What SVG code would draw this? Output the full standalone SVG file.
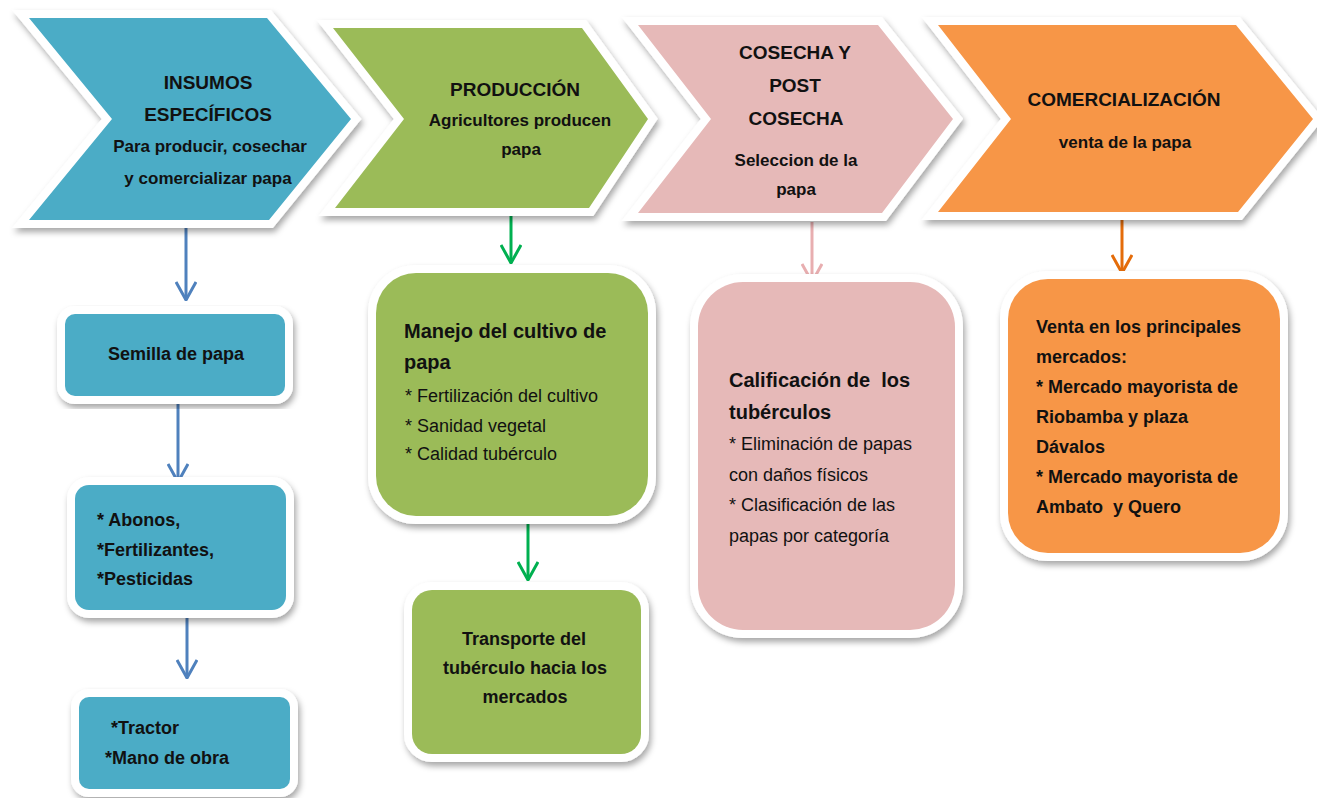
<svg xmlns="http://www.w3.org/2000/svg" width="1317" height="798" viewBox="0 0 1317 798">
<style>
.frame{stroke:#ffffff;stroke-width:16;stroke-linejoin:miter;paint-order:stroke;filter:url(#sh)}
.blue{fill:#4bacc6}.green{fill:#9bbb59}.pink{fill:#e6b9b8}.orange{fill:#f79646}
text{font-family:"Liberation Sans",Arial,sans-serif;fill:#111111}
.h{font-size:19px;font-weight:bold;text-anchor:middle}
.s{font-size:17px;font-weight:bold;text-anchor:middle}
.b{font-size:18px;font-weight:bold}
.bc{font-size:18px;font-weight:bold;text-anchor:middle}
.r{font-size:18px}
.hd{font-size:20px;font-weight:bold}
.c{fill:none;stroke-width:3}
</style>
<defs>
<filter id="sh" x="-10%" y="-10%" width="125%" height="125%">
<feDropShadow dx="2" dy="4" stdDeviation="3" flood-color="#000" flood-opacity="0.35"/>
</filter>
<marker id="aB" viewBox="0 0 20 22" refX="19" refY="11" markerWidth="20" markerHeight="22" markerUnits="userSpaceOnUse" orient="auto"><path d="M1,1 L19,11 L1,21" fill="none" stroke="#4f81bd" stroke-width="3"/></marker>
<marker id="aG" viewBox="0 0 20 22" refX="19" refY="11" markerWidth="20" markerHeight="22" markerUnits="userSpaceOnUse" orient="auto"><path d="M1,1 L19,11 L1,21" fill="none" stroke="#00b050" stroke-width="3"/></marker>
<marker id="aP" viewBox="0 0 20 22" refX="19" refY="11" markerWidth="20" markerHeight="22" markerUnits="userSpaceOnUse" orient="auto"><path d="M1,1 L19,11 L1,21" fill="none" stroke="#e8aeb0" stroke-width="3"/></marker>
<marker id="aO" viewBox="0 0 20 22" refX="19" refY="11" markerWidth="20" markerHeight="22" markerUnits="userSpaceOnUse" orient="auto"><path d="M1,1 L19,11 L1,21" fill="none" stroke="#e46c0a" stroke-width="3"/></marker>
</defs>
<rect width="1317" height="798" fill="#ffffff"/>

<g id="connectors">
<line class="c" x1="186" y1="222" x2="186" y2="300" stroke="#4f81bd" marker-end="url(#aB)"/>
<line class="c" x1="178" y1="402" x2="178" y2="482" stroke="#4f81bd" marker-end="url(#aB)"/>
<line class="c" x1="187" y1="598" x2="187" y2="678" stroke="#4f81bd" marker-end="url(#aB)"/>
<line class="c" x1="511" y1="198" x2="511" y2="263" stroke="#00b050" marker-end="url(#aG)"/>
<line class="c" x1="528" y1="516" x2="528" y2="580" stroke="#00b050" marker-end="url(#aG)"/>
<line class="c" x1="812" y1="222" x2="812" y2="282" stroke="#e8aeb0" marker-end="url(#aP)"/>
<line class="c" x1="1122" y1="207" x2="1122" y2="273" stroke="#e46c0a" marker-end="url(#aO)"/>
</g>

<g id="insumos">
<polygon class="frame blue" points="29,18 267,18 351,119 269,220 29,220 112,119"/>
<text class="h" x="208" y="89">INSUMOS</text>
<text class="h" x="208" y="121">ESPECÍFICOS</text>
<text class="s" x="210" y="152">Para producir, cosechar</text>
<text class="s" x="208" y="184">y comercializar papa</text>
</g>

<g id="produccion">
<polygon class="frame green" points="333,28 582,28 648,119 589,208 335,208 404,119"/>
<text class="h" x="515" y="96">PRODUCCIÓN</text>
<text class="s" x="520" y="126">Agricultores producen</text>
<text class="s" x="521" y="155">papa</text>
</g>

<g id="cosecha">
<polygon class="frame pink" points="638,25 878,25 953,119 882,213 638,213 711,119"/>
<text class="h" x="795" y="59">COSECHA Y</text>
<text class="h" x="795" y="92">POST</text>
<text class="h" x="796" y="125">COSECHA</text>
<text class="s" x="796" y="166">Seleccion de la</text>
<text class="s" x="796" y="195">papa</text>
</g>

<g id="comercializacion">
<polygon class="frame orange" points="938,25 1236,25 1313,119 1238,212 938,212 1011,119"/>
<text class="h" x="1124" y="106">COMERCIALIZACIÓN</text>
<text class="s" x="1125" y="148">venta de la papa</text>
</g>

<g id="semilla">
<rect class="frame blue" x="65" y="314" width="220" height="82" rx="10"/>
<text class="bc" x="176" y="360">Semilla de papa</text>
</g>

<g id="abonos">
<rect class="frame blue" x="75" y="485" width="211" height="125" rx="14"/>
<text class="b" x="97" y="526">* Abonos,</text>
<text class="b" x="97" y="556">*Fertilizantes,</text>
<text class="b" x="97" y="585">*Pesticidas</text>
</g>

<g id="tractor">
<rect class="frame blue" x="79" y="697" width="211" height="92" rx="10"/>
<text class="b" x="111" y="734">*Tractor</text>
<text class="b" x="105" y="764">*Mano de obra</text>
</g>

<g id="manejo">
<rect class="frame green" x="376" y="273" width="272" height="243" rx="40"/>
<text class="hd" x="404" y="338">Manejo del cultivo de</text>
<text class="hd" x="404" y="369">papa</text>
<text class="r" x="405" y="402">* Fertilización del cultivo</text>
<text class="r" x="405" y="432">* Sanidad vegetal</text>
<text class="r" x="405" y="460">* Calidad tubérculo</text>
</g>

<g id="transporte">
<rect class="frame green" x="412" y="590" width="229" height="164" rx="20"/>
<text class="bc" x="524" y="645">Transporte del</text>
<text class="bc" x="525" y="674">tubérculo hacia los</text>
<text class="bc" x="525" y="703">mercados</text>
</g>

<g id="calificacion">
<rect class="frame pink" x="698" y="282" width="257" height="348" rx="45"/>
<text class="hd" x="729" y="387" style="white-space:pre" font-size="19">Calificación de  los</text>
<text class="hd" x="729" y="419" font-size="19">tubérculos</text>
<text class="r" x="729" y="450">* Eliminación de papas</text>
<text class="r" x="729" y="481">con daños físicos</text>
<text class="r" x="729" y="511">* Clasificación de las</text>
<text class="r" x="729" y="542">papas por categoría</text>
</g>

<g id="venta">
<rect class="frame orange" x="1008" y="279" width="272" height="274" rx="40"/>
<text class="b" x="1036" y="333">Venta en los principales</text>
<text class="b" x="1036" y="363">mercados:</text>
<text class="b" x="1036" y="393">* Mercado mayorista de</text>
<text class="b" x="1036" y="423">Riobamba y plaza</text>
<text class="b" x="1036" y="453">Dávalos</text>
<text class="b" x="1036" y="483">* Mercado mayorista de</text>
<text class="b" x="1036" y="513" style="white-space:pre">Ambato  y Quero</text>
</g>
</svg>
